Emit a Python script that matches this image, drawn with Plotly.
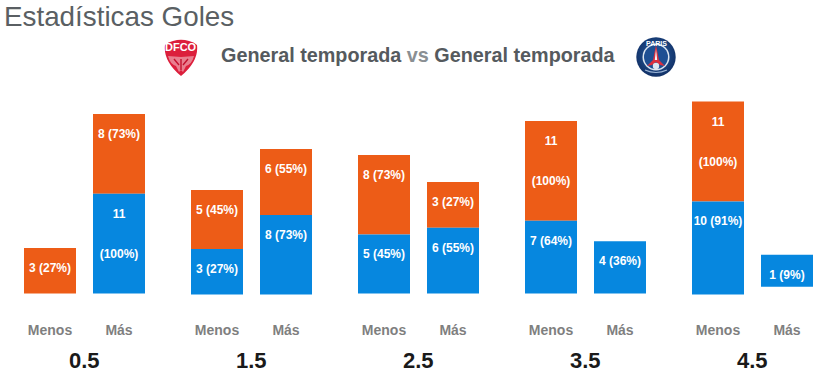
import base64
import plotly.graph_objects as go

WIDTH, HEIGHT = 837, 381
thresholds = ["0.5", "1.5", "2.5", "3.5", "4.5"]
sides = ["Menos", "Más"]

# One entry per bar: Menos 0.5, Más 0.5, Menos 1.5, ...
orange_counts = [3, 8, 5, 6, 8, 3, 11, 0, 11, 0]
orange_pcts = [27, 73, 45, 55, 73, 27, 100, 0, 100, 0]
blue_counts = [0, 11, 3, 8, 5, 6, 7, 4, 10, 1]
blue_pcts = [0, 100, 27, 73, 45, 55, 64, 36, 91, 9]
bar_lift = [0, 0, -0.15, -0.15, 0, 0, 0, 0, -0.15, 1.0]

SEGMENT_PAD = 3.7   # every coloured segment carries this extra height in the source
UNIT_PX = 6.8
BASE_PX = 293.6
PLOT_TOP = 90
PLOT_BOTTOM = 312
GROUP_STEP = 167
PAIR_STEP = 69
BAR_W = 52
FIRST_X = 50
LINE_1_DROP = 21 / UNIT_PX
LINE_2_DROP = 61.5 / UNIT_PX

xs = [FIRST_X + GROUP_STEP * (i // 2) + PAIR_STEP * (i % 2) for i in range(10)]
heights_b = [c + SEGMENT_PAD if c else 0 for c in blue_counts]
heights_o = [c + SEGMENT_PAD if c else 0 for c in orange_counts]
bases_o = [l + h for l, h in zip(bar_lift, heights_b)]

fig = go.Figure()
lx, ly, lt = [], [], []
for name, h, b, color, cs, ps in [
    ("Local", heights_o, bases_o, "#ED5C17", orange_counts, orange_pcts),
    ("Visitante", heights_b, bar_lift, "#0687DF", blue_counts, blue_pcts),
]:
    fig.add_bar(x=xs, y=h, base=b, width=BAR_W, name=name,
                marker=dict(color=color, line_width=0), cliponaxis=False)
    for x, hi, ba, c, p in zip(xs, h, b, cs, ps):
        if not c:
            continue
        top = hi + ba
        if p == 100:
            lx += [x, x]
            ly += [top - LINE_1_DROP, top - LINE_2_DROP]
            lt += [str(c), f"({p}%)"]
        else:
            lx.append(x)
            ly.append(top - LINE_1_DROP)
            lt.append(f"{c} ({p}%)")

fig.add_scatter(x=lx, y=ly, text=lt, mode="text", textposition="middle center",
                textfont=dict(family="Liberation Sans", size=12, color="white", weight="bold"),
                hoverinfo="skip")

fig.update_layout(
    width=WIDTH, height=HEIGHT, barmode="overlay", showlegend=False,
    paper_bgcolor="white", plot_bgcolor="white",
    margin=dict(l=0, r=0, t=0, b=0, autoexpand=False),
    font=dict(family="Liberation Sans"),
    xaxis=dict(
        range=[0, WIDTH], tickmode="array", tickvals=xs,
        ticktext=[sides[i % 2] for i in range(10)],
        tickfont=dict(size=14, color="#7F7F7F", weight="bold"),
        showgrid=False, zeroline=False, showline=False, ticks="", ticklen=0,
        ticklabelstandoff=8,
    ),
    yaxis=dict(
        domain=[1 - PLOT_BOTTOM / HEIGHT, 1 - PLOT_TOP / HEIGHT],
        range=[-(PLOT_BOTTOM - BASE_PX) / UNIT_PX, (BASE_PX - PLOT_TOP) / UNIT_PX],
        visible=False, showgrid=False, zeroline=False,
    ),
)

annotations = [
    dict(text="Estadísticas Goles", x=2 / WIDTH, y=1 - 16 / HEIGHT, xanchor="left", yanchor="middle",
         font=dict(size=27.8, color="#5A5F63")),
    dict(text="<b>General temporada</b> <span style='color:#8A8F93'><b>vs</b></span> <b>General temporada</b>",
         x=418 / WIDTH, y=1 - 55 / HEIGHT, xanchor="center", yanchor="middle",
         font=dict(size=19.8, color="#555A5E")),
    dict(text="<b>DFCO</b>", x=181 / WIDTH, y=1 - 47.5 / HEIGHT, xanchor="center", yanchor="middle",
         font=dict(size=11, color="white")),
    dict(text="<b>PARIS</b>", x=656 / WIDTH, y=1 - 44 / HEIGHT, xanchor="center", yanchor="middle",
         font=dict(size=7, color="white")),
]
for i, t in enumerate(thresholds):
    annotations.append(dict(
        text=f"<b>{t}</b>", x=(xs[2 * i] + xs[2 * i + 1]) / 2 / WIDTH, y=1 - 360 / HEIGHT,
        xanchor="center", yanchor="middle", font=dict(size=22, color="#1A1A1A")))
fig.update_layout(annotations=[dict(a, xref="paper", yref="paper", showarrow=False) for a in annotations])

dfco = """<svg xmlns='http://www.w3.org/2000/svg' viewBox='0 0 34 37'>
<path d='M1 6 Q4 3 9 2 Q17 -0.5 25 2 Q30 3 33 6 Q35 22 17 37 Q-1 22 1 6Z' fill='#DC1F3C'/>
<path d='M17 18 L30 17 Q28 25 22 27 L19 33 L17 31 L15 33 L12 27 Q6 25 4 17Z' fill='#E97F8F'/>
<path d='M17 20 L17 31 M10 20 L15 26 M24 20 L19 26' stroke='#C3112E' stroke-width='1.4' fill='none'/>
</svg>"""
psg = """<svg xmlns='http://www.w3.org/2000/svg' viewBox='0 0 40 40'>
<defs><radialGradient id='g' cx='50%' cy='45%' r='58%'><stop offset='0' stop-color='#2A62AA'/><stop offset='1' stop-color='#102E62'/></radialGradient></defs>
<circle cx='20' cy='20' r='19.7' fill='url(#g)'/>
<circle cx='20' cy='20' r='13.5' fill='#DDE6F0'/>
<circle cx='20' cy='20' r='12' fill='#1E4F93'/>
<path d='M20 8 L23 23 L29 29 L24 28 L20 25 L16 28 L11 29 L17 23Z' fill='#DC2F3E'/>
<path d='M20 12 L21.2 23 L18.8 23Z' fill='#F4F7FA'/>
<circle cx='20' cy='29' r='3.2' fill='#DDE6F0'/>
<path d='M9 33 Q20 38 31 33' stroke='#9DB6D6' stroke-width='1.2' fill='none'/>
</svg>"""


def uri(svg):
    return "data:image/svg+xml;base64," + base64.b64encode(svg.encode()).decode()


fig.update_layout(images=[
    dict(source=uri(dfco), xref="paper", yref="paper", x=164 / WIDTH, y=1 - 39 / HEIGHT,
         sizex=34 / WIDTH, sizey=37 / HEIGHT, xanchor="left", yanchor="top", sizing="stretch", layer="below"),
    dict(source=uri(psg), xref="paper", yref="paper", x=636 / WIDTH, y=1 - 37 / HEIGHT,
         sizex=40 / WIDTH, sizey=40 / HEIGHT, xanchor="left", yanchor="top", sizing="stretch", layer="below"),
])

fig.write_html("out.html", config=dict(displayModeBar=False),
               post_script="document.body.style.margin='0';")
